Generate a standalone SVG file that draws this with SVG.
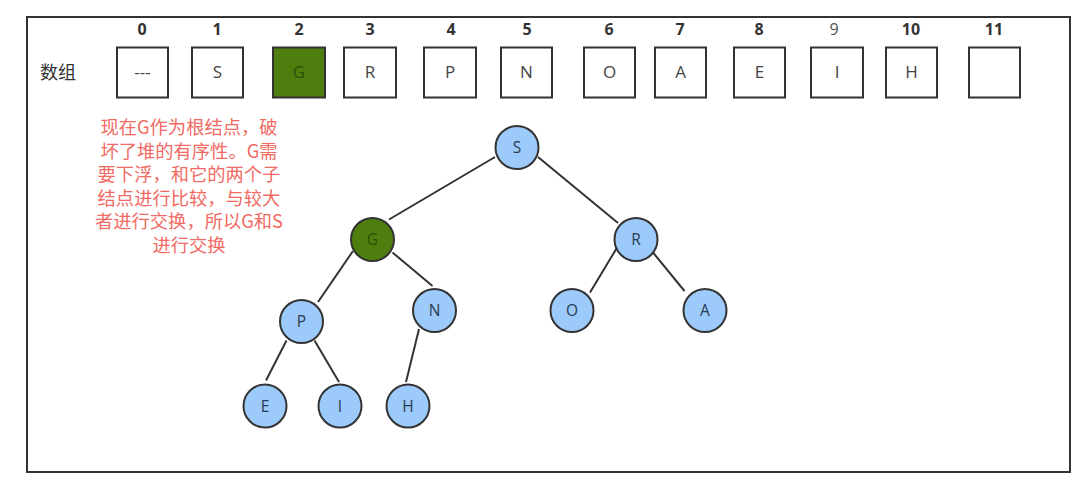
<svg xmlns="http://www.w3.org/2000/svg" width="1087" height="490" viewBox="0 0 1087 490">
<style>
.idx{font-family:"Open Sans","Liberation Sans",sans-serif;font-size:16px;font-weight:bold;fill:#333;text-anchor:middle}
.idxn{font-weight:normal;fill:#555}
.box{fill:#fff;stroke:#333;stroke-width:2}
.boxg{fill:#4e7f0e;stroke:#333;stroke-width:2}
.bt{font-family:"Open Sans","Liberation Sans",sans-serif;font-size:17px;fill:#444;text-anchor:middle}
.btg{fill:#2f4f08}
.nd{fill:#9ccbfb;stroke:#333;stroke-width:2}
.ndg{fill:#4e7f0e;stroke:#333;stroke-width:2}
.nt{font-family:"Open Sans","Liberation Sans",sans-serif;font-size:15.5px;fill:#2a3a50;text-anchor:middle}
.ntg{fill:#2f4f08}
.edge{stroke:#333;stroke-width:2;fill:none}
.note{font-family:"Noto Sans CJK SC","Open Sans",sans-serif;font-size:18.3px;fill:#f26a64;text-anchor:middle}
.lbl{font-family:"Noto Sans CJK SC",sans-serif;font-size:18px;fill:#333}
</style>
<rect x="0" y="0" width="1087" height="490" fill="#fff"/>
<rect id="frame" x="27" y="17" width="1043" height="455" fill="none" stroke="#333" stroke-width="2"/>
<g id="indices">
<text class="idx" x="142" y="35">0</text>
<text class="idx" x="217" y="35">1</text>
<text class="idx" x="299" y="35">2</text>
<text class="idx" x="370" y="35">3</text>
<text class="idx" x="451" y="35">4</text>
<text class="idx" x="527" y="35">5</text>
<text class="idx" x="609" y="35">6</text>
<text class="idx" x="680" y="35">7</text>
<text class="idx" x="759" y="35">8</text>
<text class="idx idxn" x="834" y="35">9</text>
<text class="idx" x="911" y="35">10</text>
<text class="idx" x="994" y="35">11</text>
</g>
<text id="label" class="lbl" x="40" y="79">数组</text>
<g id="array">
<g id="a0"><rect class="box" x="117" y="47.5" width="51" height="50"/><text class="bt" x="142.5" y="78">---</text></g>
<g id="a1"><rect class="box" x="192" y="47.5" width="51" height="50"/><text class="bt" x="217.5" y="78">S</text></g>
<g id="a2"><rect class="boxg" x="273" y="47.5" width="52" height="50"/><text class="bt btg" x="299" y="78">G</text></g>
<g id="a3"><rect class="box" x="344" y="47.5" width="52" height="50"/><text class="bt" x="370" y="78">R</text></g>
<g id="a4"><rect class="box" x="424" y="47.5" width="52" height="50"/><text class="bt" x="450" y="78">P</text></g>
<g id="a5"><rect class="box" x="501" y="47.5" width="51" height="50"/><text class="bt" x="526.5" y="78">N</text></g>
<g id="a6"><rect class="box" x="584" y="47.5" width="51" height="50"/><text class="bt" x="609.5" y="78">O</text></g>
<g id="a7"><rect class="box" x="655" y="47.5" width="51" height="50"/><text class="bt" x="680.5" y="78">A</text></g>
<g id="a8"><rect class="box" x="734" y="47.5" width="51" height="50"/><text class="bt" x="759.5" y="78">E</text></g>
<g id="a9"><rect class="box" x="811" y="47.5" width="52" height="50"/><text class="bt" x="837" y="78">I</text></g>
<g id="a10"><rect class="box" x="886" y="47.5" width="51" height="50"/><text class="bt" x="911.5" y="78">H</text></g>
<g id="a11"><rect class="box" x="969" y="47.5" width="51" height="50"/></g>
</g>
<g id="note">
<text class="note" x="189" y="134">现在G作为根结点，破</text>
<text class="note" x="189" y="157.6">坏了堆的有序性。G需</text>
<text class="note" x="189" y="181.2">要下浮，和它的两个子</text>
<text class="note" x="189" y="204.8">结点进行比较，与较大</text>
<text class="note" x="189" y="228.4">者进行交换，所以G和S</text>
<text class="note" x="189" y="252">进行交换</text>
</g>
<g id="connectors">
<line class="edge" x1="495" y1="157" x2="389" y2="219.5"/>
<line class="edge" x1="538" y1="157" x2="618" y2="223"/>
<line class="edge" x1="353" y1="251" x2="318" y2="302"/>
<line class="edge" x1="392.5" y1="252.5" x2="432.5" y2="286"/>
<line class="edge" x1="618" y1="246" x2="590" y2="292.5"/>
<line class="edge" x1="653" y1="252.5" x2="684.5" y2="291"/>
<line class="edge" x1="286.5" y1="340.5" x2="266" y2="380.5"/>
<line class="edge" x1="314.5" y1="340.5" x2="339" y2="382"/>
<line class="edge" x1="419" y1="329" x2="406" y2="382"/>
</g>
<g id="tree">
<g id="nS"><circle class="nd" cx="517" cy="147.5" r="21.5"/><text class="nt" x="517" y="153">S</text></g>
<g id="nG"><circle class="ndg" cx="372.5" cy="239.5" r="21.5"/><text class="nt ntg" x="372.5" y="245">G</text></g>
<g id="nR"><circle class="nd" cx="636" cy="239.5" r="21.5"/><text class="nt" x="636" y="245">R</text></g>
<g id="nP"><circle class="nd" cx="301.5" cy="321.5" r="21.5"/><text class="nt" x="301.5" y="327">P</text></g>
<g id="nN"><circle class="nd" cx="434.5" cy="310.5" r="21.5"/><text class="nt" x="434.5" y="316">N</text></g>
<g id="nO"><circle class="nd" cx="572" cy="310.5" r="21.5"/><text class="nt" x="572" y="316">O</text></g>
<g id="nA"><circle class="nd" cx="705" cy="310.5" r="21.5"/><text class="nt" x="705" y="316">A</text></g>
<g id="nE"><circle class="nd" cx="265" cy="406" r="21.5"/><text class="nt" x="265" y="411.5">E</text></g>
<g id="nI"><circle class="nd" cx="340" cy="406" r="21.5"/><text class="nt" x="340" y="411.5">I</text></g>
<g id="nH"><circle class="nd" cx="408" cy="406" r="21.5"/><text class="nt" x="408" y="411.5">H</text></g>
</g>
</svg>
